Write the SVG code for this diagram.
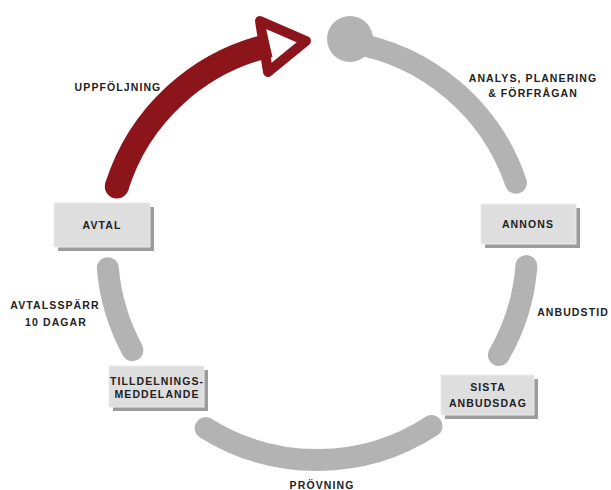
<svg xmlns="http://www.w3.org/2000/svg" width="611" height="490" viewBox="0 0 611 490">
<style>
.arc{fill:none;stroke:#b3b3b3;stroke-width:22;stroke-linecap:round}
.red{fill:none;stroke:#8c151c;stroke-width:24}
.box{fill:#dedede;stroke:#ececec;stroke-width:1}
.sh{fill:#9c9c9c}
text{font-family:"Liberation Sans",Arial,sans-serif;font-weight:bold;font-size:10.5px;letter-spacing:1.1px;fill:#222;text-anchor:middle}
</style>
<rect width="611" height="490" fill="#fff"/>
<g id="connectors">
<circle cx="350" cy="39" r="23" fill="#b3b3b3"/>
<path class="arc" d="M349.8 42.6 A210 210 0 0 1 515.9 182.7"/>
<path class="arc" d="M526.4 266.1 A210 210 0 0 1 498.9 355"/>
<path class="arc" d="M431.4 426.1 A210 210 0 0 1 205.7 428.1"/>
<path class="arc" d="M132.5 350.2 A210 210 0 0 1 107.8 268.3"/>
<polygon points="260,21 268,72 306,41" fill="#fff" stroke="#8c151c" stroke-width="10" stroke-linejoin="round"/>
<path class="red" d="M116.8 186.5 A210 210 0 0 1 269.8 45.4"/>
<circle cx="116.8" cy="186.5" r="12" fill="#8c151c"/>
</g>
<g id="labels">
<text x="118" y="91">UPPFÖLJNING</text>
<text x="533" y="82">ANALYS, PLANERING</text>
<text x="533" y="97">&amp; FÖRFRÅGAN</text>
<text x="573" y="316">ANBUDSTID</text>
<text x="55" y="309">AVTALSSPÄRR</text>
<text x="56" y="326">10 DAGAR</text>
<text x="322" y="489">PRÖVNING</text>
</g>
<g id="avtal">
<rect class="sh" x="58" y="207" width="96" height="44"/>
<rect class="box" x="54" y="203" width="96" height="44"/>
<text x="102" y="229">AVTAL</text>
</g>
<g id="annons">
<rect class="sh" x="485" y="208" width="95" height="40"/>
<rect class="box" x="481" y="204" width="95" height="40"/>
<text x="528" y="228">ANNONS</text>
</g>
<g id="sista">
<rect class="sh" x="445" y="379" width="93" height="40"/>
<rect class="box" x="441" y="375" width="93" height="40"/>
<text x="488" y="391">SISTA</text>
<text x="488" y="407">ANBUDSDAG</text>
</g>
<g id="tilldelning">
<rect class="sh" x="113" y="370" width="95" height="41"/>
<rect class="box" x="109" y="366" width="95" height="41"/>
<text x="157" y="385">TILLDELNINGS-</text>
<text x="157" y="398">MEDDELANDE</text>
</g>
</svg>
